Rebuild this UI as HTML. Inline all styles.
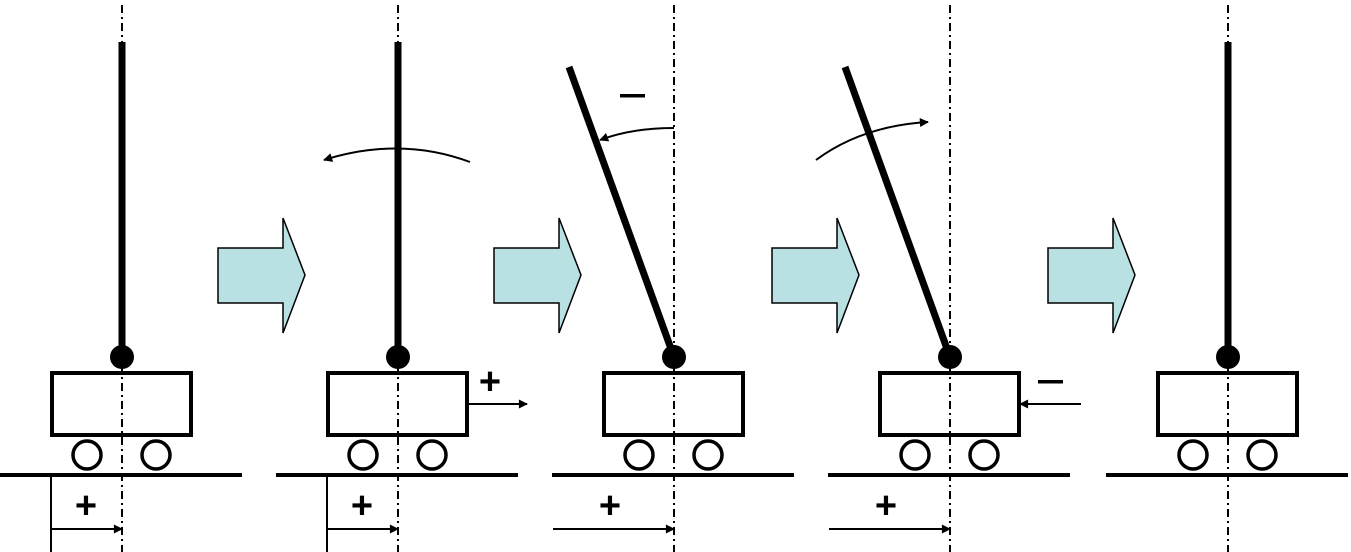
<!DOCTYPE html>
<html><head><meta charset="utf-8"><style>html,body{margin:0;padding:0;background:#fff}svg{display:block}</style></head>
<body>
<svg width="1351" height="552" viewBox="0 0 1351 552" xmlns="http://www.w3.org/2000/svg" font-family="Liberation Sans, sans-serif">
<defs>
<marker id="ah" viewBox="0 0 10 10" refX="9" refY="5" markerWidth="12" markerHeight="9" markerUnits="userSpaceOnUse" orient="auto"><path d="M0,0 L10,5 L0,10 z" fill="#000"/></marker>
<g id="cart">
<rect x="-70" y="373" width="139" height="62" fill="#fff" stroke="#000" stroke-width="4"/>
<circle cx="-35" cy="455" r="14" fill="#fff" stroke="#000" stroke-width="3.5"/>
<circle cx="34" cy="455" r="14" fill="#fff" stroke="#000" stroke-width="3.5"/>
<line x1="-122" y1="475" x2="120" y2="475" stroke="#000" stroke-width="4"/>
<line x1="0" y1="5" x2="0" y2="552" stroke="#000" stroke-width="2" stroke-dasharray="8 4 2 4"/>
</g>
<g id="blk"><path d="M0,248 H65 V218 L87,275 L65,333 V303 H0 Z" fill="#b9e0e3" stroke="#000" stroke-width="1.5"/></g>
</defs>

<use href="#cart" x="122"/>
<use href="#cart" x="398"/>
<use href="#cart" x="674"/>
<use href="#cart" x="950"/>
<use href="#cart" x="1228"/>

<line x1="122" y1="42" x2="122" y2="357" stroke="#000" stroke-width="7"/>
<circle cx="122" cy="357" r="12"/>
<line x1="398" y1="42" x2="398" y2="357" stroke="#000" stroke-width="7"/>
<circle cx="398" cy="357" r="12"/>
<line x1="569" y1="67" x2="674" y2="357" stroke="#000" stroke-width="7"/>
<circle cx="674" cy="357" r="12"/>
<line x1="845" y1="67" x2="950" y2="357" stroke="#000" stroke-width="7"/>
<circle cx="950" cy="357" r="12"/>
<line x1="1228" y1="42" x2="1228" y2="357" stroke="#000" stroke-width="7"/>
<circle cx="1228" cy="357" r="12"/>

<use href="#blk" x="218"/>
<use href="#blk" x="494"/>
<use href="#blk" x="772"/>
<use href="#blk" x="1048"/>

<path d="M470,162 Q400,136 324,160" fill="none" stroke="#000" stroke-width="2" marker-end="url(#ah)"/>
<path d="M674,128 Q632,128 600,140" fill="none" stroke="#000" stroke-width="2" marker-end="url(#ah)"/>
<path d="M816,160 Q862,126 928,122" fill="none" stroke="#000" stroke-width="2" marker-end="url(#ah)"/>
<rect x="620" y="94" width="25" height="3.5" fill="#000"/>

<g font-size="38" font-weight="bold" text-anchor="middle">
<text x="490" y="394">+</text>
<text x="86" y="518">+</text>
<text x="362" y="518">+</text>
<text x="610" y="518">+</text>
<text x="886" y="518">+</text>
</g>

<line x1="468" y1="404" x2="527" y2="404" stroke="#000" stroke-width="2" marker-end="url(#ah)"/>
<rect x="1038" y="380" width="25" height="3.5" fill="#000"/>
<line x1="1081" y1="404" x2="1020" y2="404" stroke="#000" stroke-width="2" marker-end="url(#ah)"/>

<line x1="51" y1="475" x2="51" y2="552" stroke="#000" stroke-width="2"/>
<line x1="51" y1="529" x2="122" y2="529" stroke="#000" stroke-width="2" marker-end="url(#ah)"/>
<line x1="327" y1="475" x2="327" y2="552" stroke="#000" stroke-width="2"/>
<line x1="327" y1="529" x2="398" y2="529" stroke="#000" stroke-width="2" marker-end="url(#ah)"/>
<line x1="553" y1="529" x2="674" y2="529" stroke="#000" stroke-width="2" marker-end="url(#ah)"/>
<line x1="829" y1="529" x2="950" y2="529" stroke="#000" stroke-width="2" marker-end="url(#ah)"/>
</svg>
</body></html>
